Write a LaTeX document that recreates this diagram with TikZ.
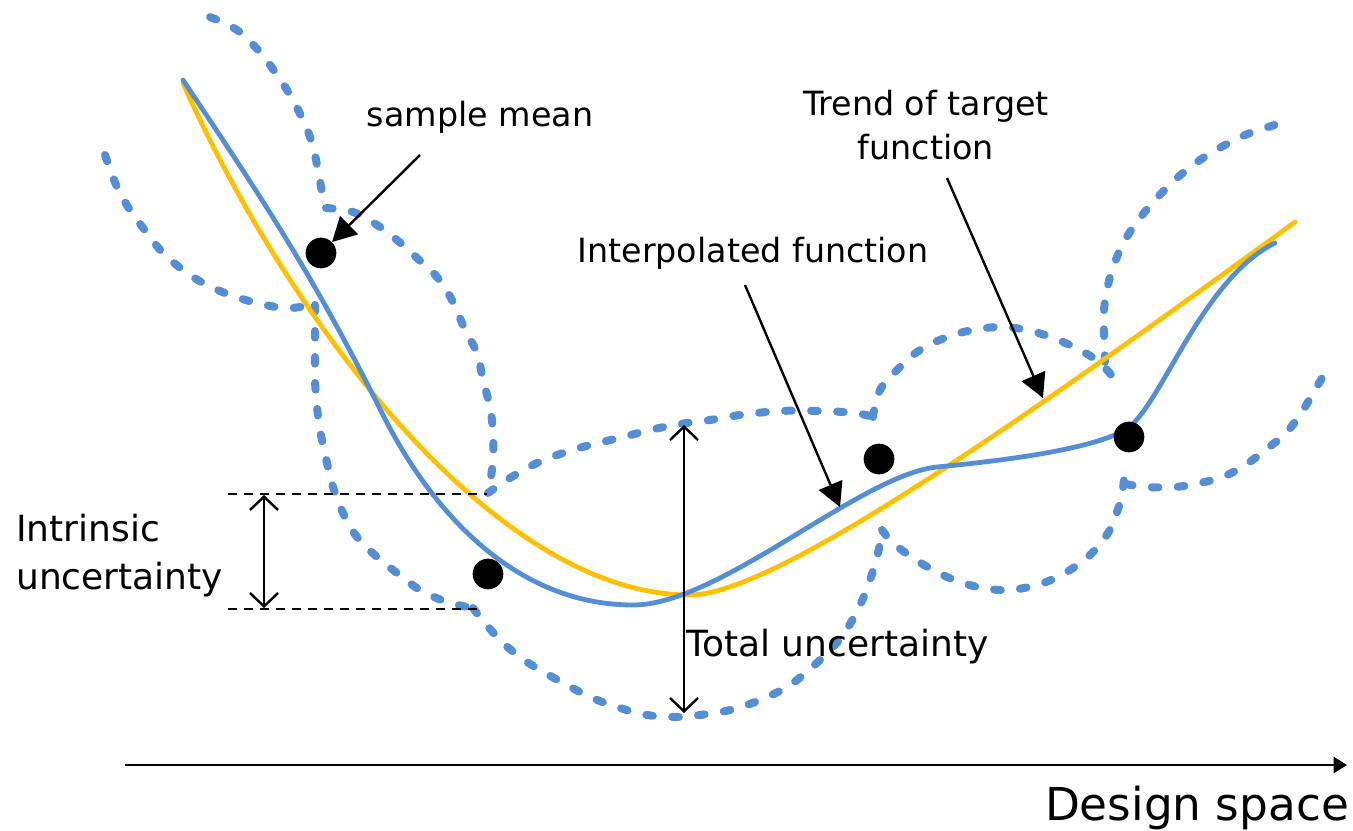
\documentclass[tikz,border=0pt]{standalone}
\usepackage{fontspec}
\setmainfont{DejaVu Sans}
\usetikzlibrary{arrows.meta}
\definecolor{bandblue}{HTML}{558ED5}
\definecolor{trendgold}{HTML}{FFC000}

\begin{document}
\begin{tikzpicture}[x=0.75pt,y=-0.75pt,
  band/.style={bandblue, line width=6pt, line cap=round, dash pattern=on 5pt off 14.5pt},
  trendline/.style={trendgold, line width=3.6pt, line cap=round},
  interp/.style={bandblue, line width=3.6pt, line cap=round},
  dot/.style={circle, fill=black, minimum size=23pt, inner sep=0pt},
  pointer/.style={line width=1.8pt, -{Triangle[length=18pt,width=19pt]}},
  span/.style={line width=1.8pt, {Straight Barb[length=10pt,width=21pt]}-{Straight Barb[length=10pt,width=21pt]}},
  guide/.style={black, line width=1.6pt, dash pattern=on 7pt off 5pt},
  axis/.style={line width=1.8pt, -{Triangle[length=10pt,width=12pt]}},
  lbl/.style={inner sep=0pt, font=\fontsize{25}{33}\selectfont},
  biglbl/.style={inner sep=0pt, font=\fontsize{27}{36}\selectfont}
]
\useasboundingbox (0,0) rectangle (1353,831);

% uncertainty bands (dashed)
\draw[band] plot[smooth, tension=0.6] coordinates {(105,155) (117,187) (130,210) (147,233) (163,253) (183,270) (203,283) (230,295) (257,303) (283,308) (300,307) (315,303)};
\draw[band] plot[smooth, tension=0.6] coordinates {(315,305) (315,327) (315,353) (315,380) (317,407) (320,430) (327,463) (333,487) (343,513) (357,537) (377,557) (397,573) (420,590) (447,602) (473,608)};
\draw[band] plot[smooth, tension=0.6] coordinates {(473,608) (480,617) (500,640) (520,657) (540,670) (567,685) (590,697) (617,707) (647,715) (680,717) (700,715) (730,710) (760,700) (790,685) (820,660) (843,635) (860,605) (870,580) (878,553) (882,530)};
\draw[band] plot[smooth, tension=0.6] coordinates {(882,530) (892,542) (910,556) (933,570) (957,581) (983,588) (1010,590) (1040,584) (1065,573) (1090,555) (1108,533) (1117,512) (1122,495) (1124,478)};
\draw[band] plot[smooth, tension=0.6] coordinates {(1126,484) (1145,487) (1175,487) (1200,483) (1225,476) (1248,463) (1268,448) (1287,432) (1303,410) (1315,390) (1322,378)};
\draw[band] plot[smooth, tension=0.6] coordinates {(210,17) (237,30) (258,50) (275,72) (290,95) (302,118) (312,143) (318,170) (322,193) (324,208)};
\draw[band] plot[smooth, tension=0.6] coordinates {(326,208) (353,212) (377,225) (397,240) (417,258) (437,277) (453,302) (465,330) (477,353) (483,380) (490,407) (493,433) (493,460) (490,483) (488,493)};
\draw[band] plot[smooth, tension=0.6] coordinates {(488,493) (510,478) (537,463) (563,453) (590,445) (623,437) (650,430) (680,424) (710,420) (740,415) (780,411) (820,411) (855,413) (873,417)};
\draw[band] plot[smooth, tension=0.6] coordinates {(873,417) (880,390) (900,367) (920,350) (947,337) (973,330) (1000,327) (1027,330) (1053,338) (1080,350) (1100,363) (1113,377) (1120,385)};
\draw[band] plot[smooth, tension=0.6] coordinates {(1105,362) (1104,335) (1104,310) (1108,285) (1115,262) (1125,240) (1140,218) (1157,198) (1177,178) (1200,160) (1225,145) (1250,133) (1278,124)};

% trend of the target function
\draw[trendline] (183,83) .. controls (283,309) and (490,595) .. (690,595)
                 .. controls (770,595) and (995,441) .. (1295,222);

% interpolated function
\draw[interp] (183,80) .. controls (263,200) and (312,273) .. (382,413)
              .. controls (437,523) and (523,605) .. (633,605)
              .. controls (720,605) and (860,475) .. (937,467)
              .. controls (1000,461) and (1090,450) .. (1125,430)
              .. controls (1160,410) and (1200,280) .. (1275,243);

% intrinsic uncertainty guides
\coordinate (gtl) at (228,494);
\coordinate (gtr) at (487,494);
\coordinate (gbl) at (228,609);
\coordinate (gbr) at (478,609);
\draw[guide] (gtl) -- (gtr);
\draw[guide] (gbl) -- (gbr);

% samples
\node[dot] (s1) at (321,253) {};
\node[dot] (s2) at (488,574) {};
\node[dot] (s3) at (879,459) {};
\node[dot] (s4) at (1129,437) {};

% labels
\node[lbl] (lmean) at (480,117) {sample mean};
\node[lbl, align=center] (ltrend) at (926,125) {Trend of target\\function};
\node[lbl] (linterp) at (753,253) {Interpolated function};
\node[biglbl, anchor=west] (ltotal) at (686,647) {Total uncertainty};
\node[biglbl, anchor=west, align=left] (lintr) at (16,556) {Intrinsic\\uncertainty};
\node[inner sep=0pt, font=\fontsize{34}{40}\selectfont] (ldesign) at (1197,808) {Design space};

% pointers
\coordinate (meantail) at (420,155);
\draw[pointer] (meantail) -- (s1);
\coordinate (interptail) at (745,285);
\coordinate (interptip) at (840,507);
\draw[pointer] (interptail) -- (interptip);
\coordinate (trendtail) at (947,178);
\coordinate (trendtip) at (1043,398);
\draw[pointer] (trendtail) -- (trendtip);

% uncertainty spans
\coordinate (ttop) at (684,425);
\coordinate (tbot) at (684,713);
\draw[span] (ttop) -- (tbot);
\coordinate (itop) at (264,495);
\coordinate (ibot) at (264,608);
\draw[span] (itop) -- (ibot);

% design space axis
\coordinate (ax0) at (125,765);
\coordinate (ax1) at (1347,765);
\draw[axis] (ax0) -- (ax1);
\end{tikzpicture}
\end{document}
